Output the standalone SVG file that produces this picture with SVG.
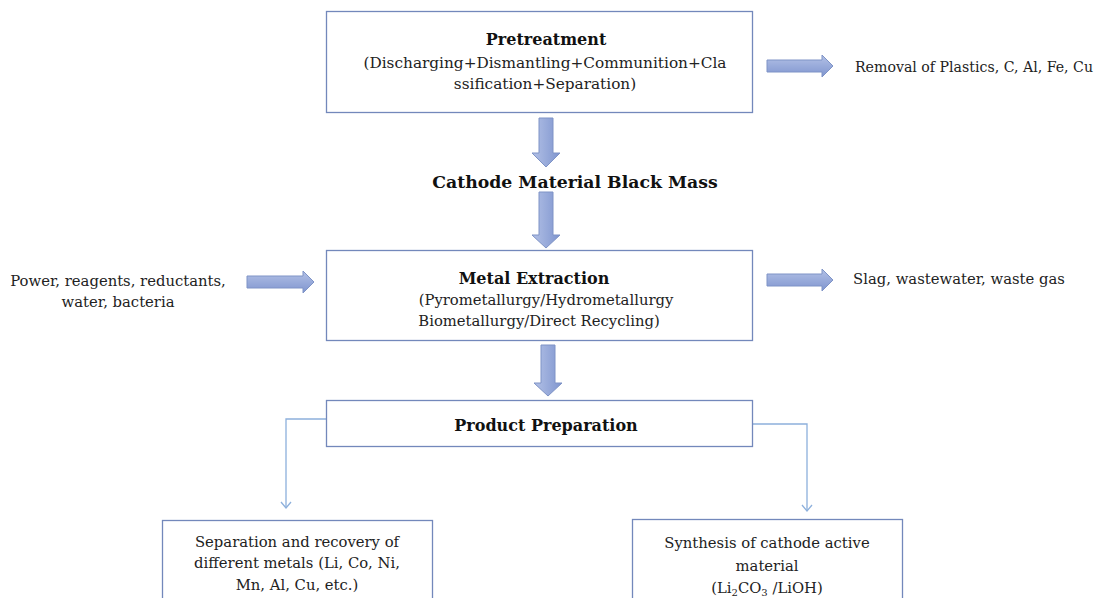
<svg xmlns="http://www.w3.org/2000/svg" width="1106" height="598" viewBox="0 0 1106 598">
<style>
.box{fill:#fff;stroke:#7388bb;stroke-width:1.3}
.t{font-family:"DejaVu Serif","Liberation Serif",serif;font-size:14.8px;fill:#222;text-anchor:middle}
.b{font-weight:bold;fill:#111;font-size:16px}
.blk{fill:url(#g);stroke:#7e93c6;stroke-width:1}
.blkv{fill:url(#gv);stroke:#7e93c6;stroke-width:1}
.con{fill:none;stroke:#8db0dc;stroke-width:1.3}
</style>
<defs>
<linearGradient id="g" x1="0" y1="0" x2="0" y2="1"><stop offset="0" stop-color="#b3c1e6"/><stop offset="1" stop-color="#7f95cf"/></linearGradient>
<linearGradient id="gv" x1="0" y1="0" x2="1" y2="0"><stop offset="0" stop-color="#b3c1e6"/><stop offset="1" stop-color="#7f95cf"/></linearGradient>
<marker id="v" viewBox="0 0 12 12" refX="11" refY="6" markerWidth="12" markerHeight="12" markerUnits="userSpaceOnUse" orient="auto">
<path d="M5,1 L11,6 L5,11" fill="none" stroke="#8db0dc" stroke-width="1.3"/>
</marker>
</defs>
<rect width="1106" height="598" fill="#fff"/>

<g id="connectors">
<path class="blkv" d="M539,118 H553 V153 H560 L546,167 L532,153 H539 Z"/>
<path class="blkv" d="M539,192 H553 V235 H560 L546,248 L532,235 H539 Z"/>
<path class="blkv" d="M541,345 H555 V383 H562 L548,396 L534,383 H541 Z"/>
<path class="blk" d="M767,60 H822 V55 L833,66 L822,77 V72 H767 Z"/>
<path class="blk" d="M247,276 H303 V271 L314,282 L303,293 V288 H247 Z"/>
<path class="blk" d="M767,274 H822 V269 L833,280 L822,291 V286 H767 Z"/>
<path class="con" d="M326,419 H286 V508" marker-end="url(#v)"/>
<path class="con" d="M752,424 H807 V511" marker-end="url(#v)"/>
</g>

<g id="pretreatment">
<rect class="box" x="326.5" y="11.5" width="426" height="101"/>
<text class="t b" x="546" y="45">Pretreatment</text>
<text class="t" x="545" y="68" style="font-size:15.3px">(Discharging+Dismantling+Communition+Cla</text>
<text class="t" x="545" y="89" style="font-size:15.3px">ssification+Separation)</text>
</g>

<g id="removal">
<text class="t" x="974" y="72" style="font-size:14.15px">Removal of Plastics, C, Al, Fe, Cu</text>
</g>

<g id="blackmass">
<text class="t b" x="575" y="188" style="font-size:17.3px">Cathode Material Black Mass</text>
</g>

<g id="inputs">
<text class="t" x="118" y="286">Power, reagents, reductants,</text>
<text class="t" x="118" y="307">water, bacteria</text>
</g>

<g id="extraction">
<rect class="box" x="326.5" y="250.5" width="426" height="90"/>
<text class="t b" x="534" y="284">Metal Extraction</text>
<text class="t" x="546" y="305">(Pyrometallurgy/Hydrometallurgy</text>
<text class="t" x="539" y="326">Biometallurgy/Direct Recycling)</text>
</g>

<g id="waste">
<text class="t" x="959" y="284">Slag, wastewater, waste gas</text>
</g>

<g id="product">
<rect class="box" x="326.5" y="400.5" width="426" height="46"/>
<text class="t b" x="546" y="431">Product Preparation</text>
</g>

<g id="separation">
<rect class="box" x="162.5" y="520.5" width="270" height="90"/>
<text class="t" x="297" y="547">Separation and recovery of</text>
<text class="t" x="297" y="568">different metals (Li, Co, Ni,</text>
<text class="t" x="297" y="590">Mn, Al, Cu, etc.)</text>
</g>

<g id="synthesis">
<rect class="box" x="632.5" y="519.5" width="270" height="90"/>
<text class="t" x="767" y="548">Synthesis of cathode active</text>
<text class="t" x="767" y="571">material</text>
<text class="t" x="767" y="593">(Li<tspan style="font-size:10px" dy="3">2</tspan><tspan dy="-3">CO</tspan><tspan style="font-size:10px" dy="3">3</tspan><tspan dy="-3"> /LiOH)</tspan></text>
</g>
</svg>
